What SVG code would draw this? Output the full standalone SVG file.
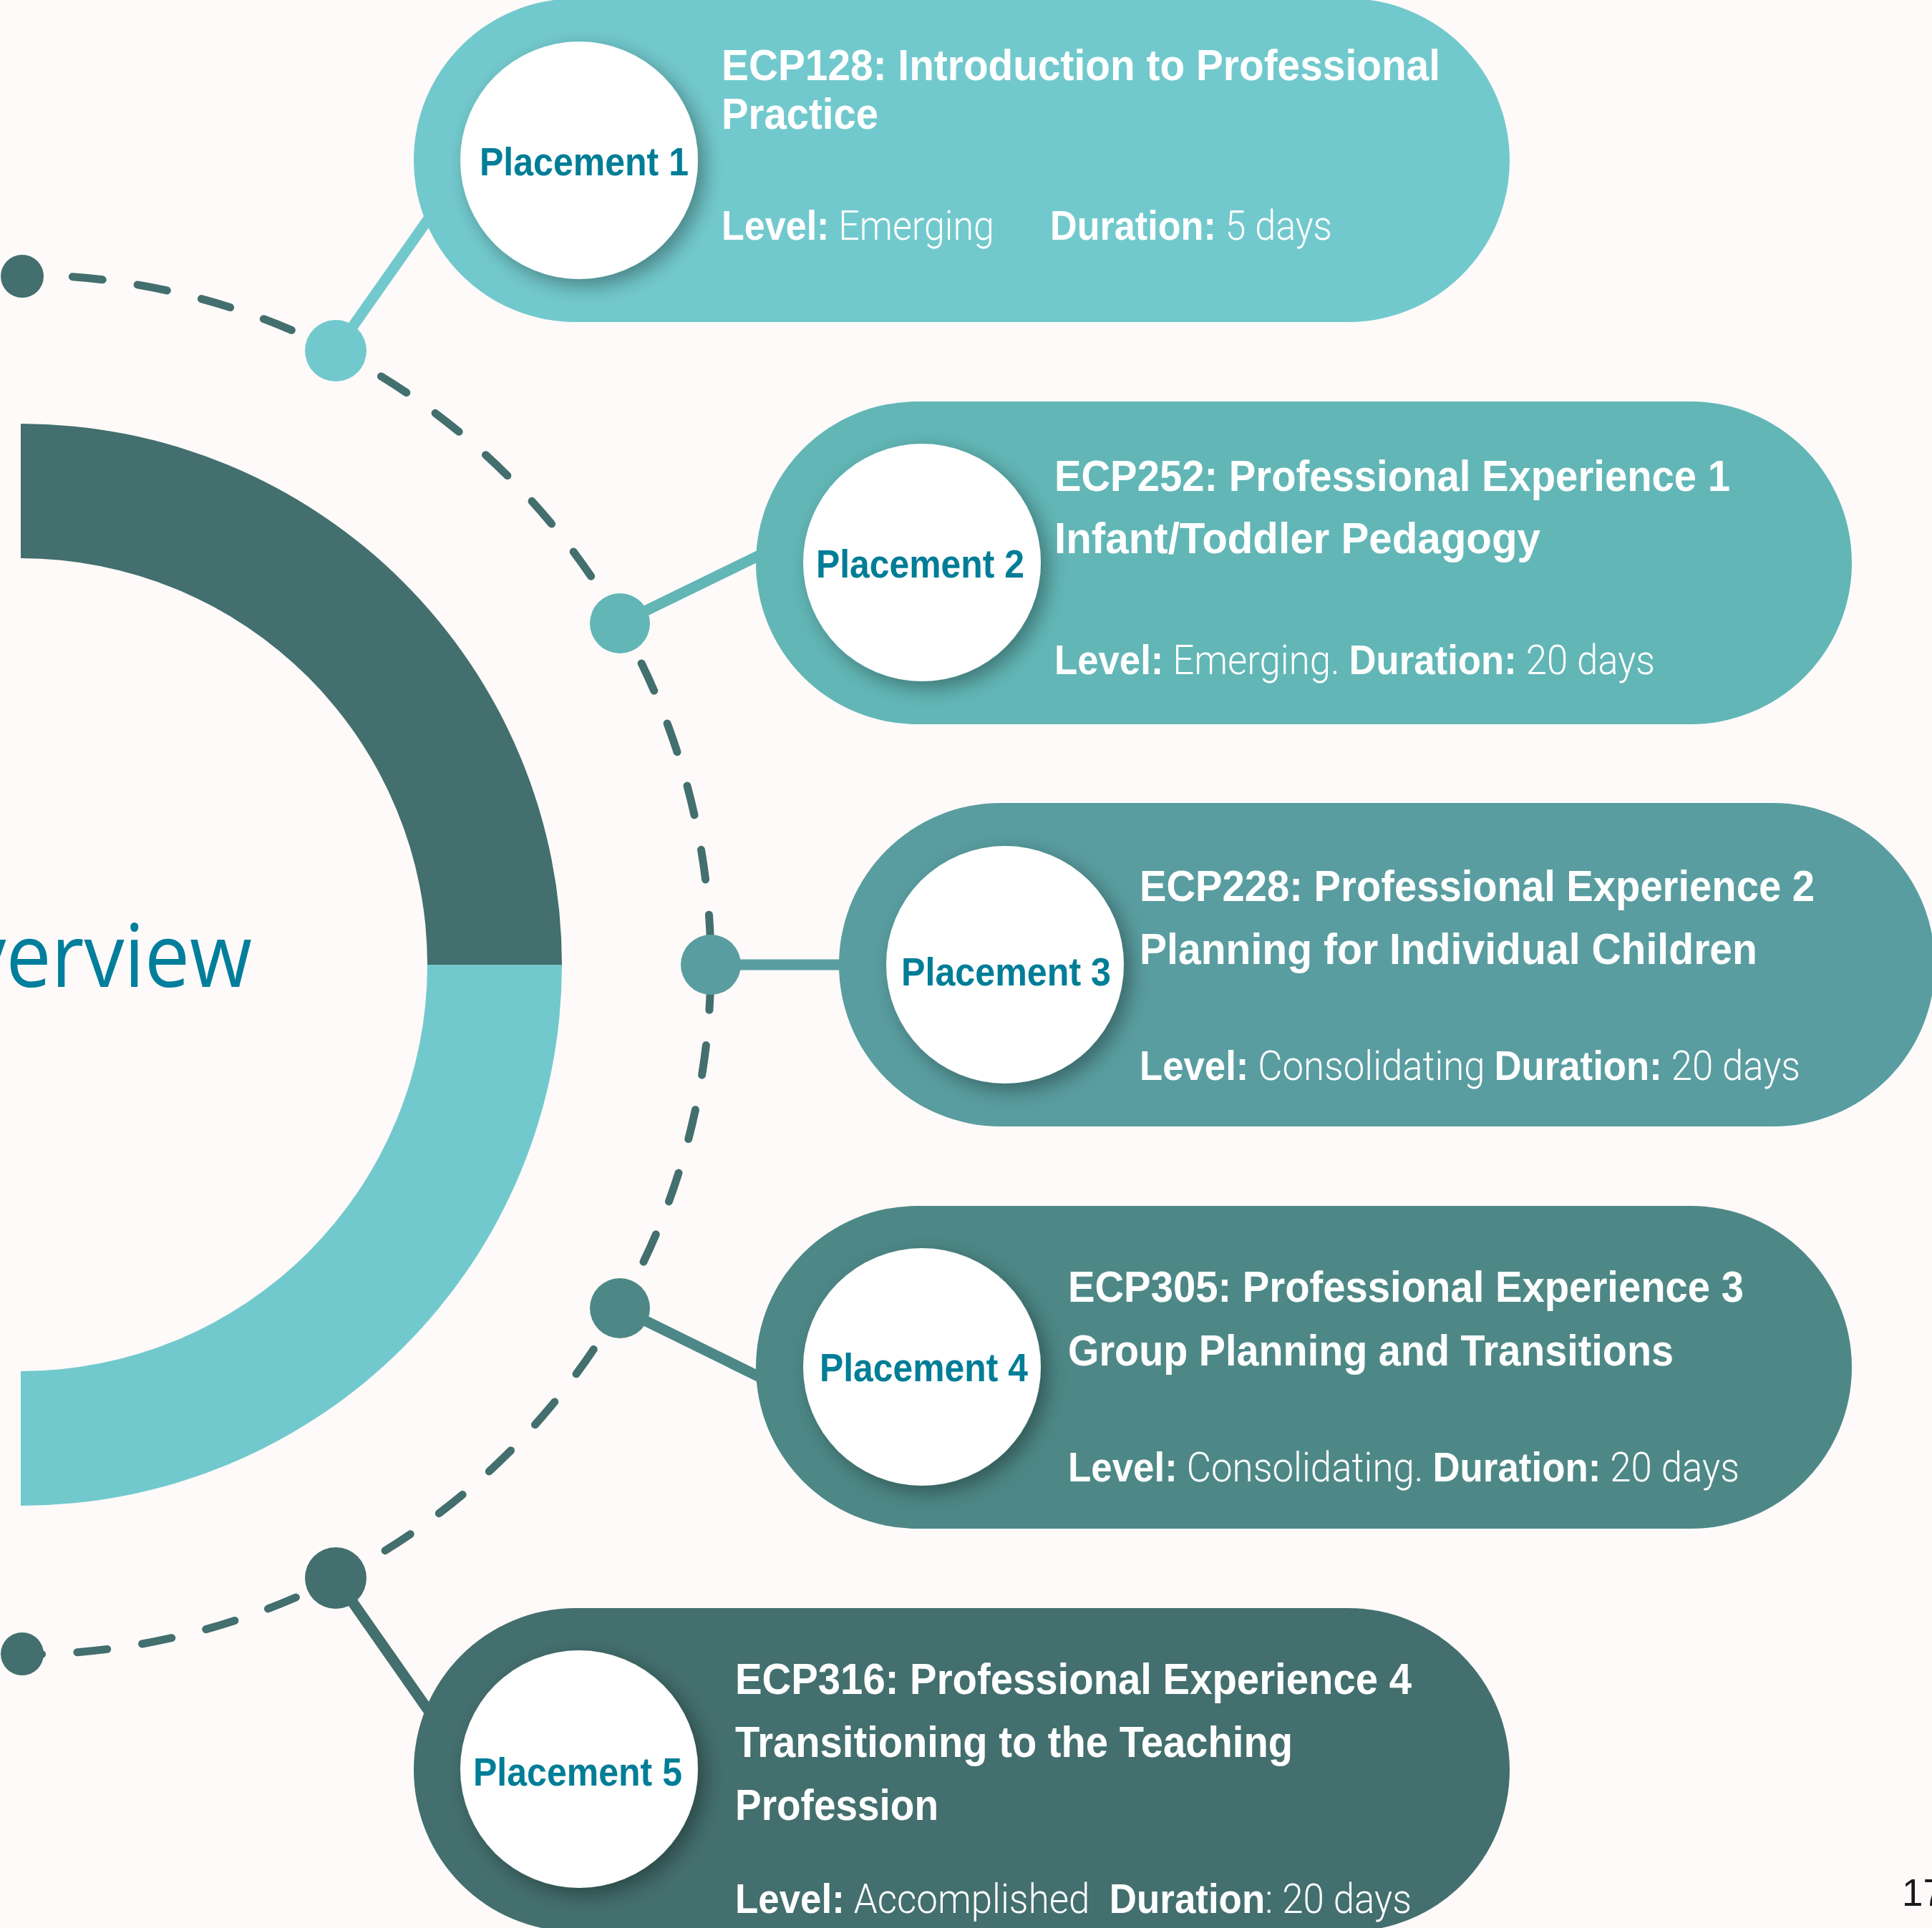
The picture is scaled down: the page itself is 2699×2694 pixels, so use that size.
<svg xmlns="http://www.w3.org/2000/svg" width="2699" height="2694" viewBox="0 0 2699 2694">
<defs>
<style>
.title{font-family:"Liberation Sans","Roboto",sans-serif;font-weight:700;font-size:62px;fill:#ffffff}
.lvl{font-family:"Liberation Sans","Roboto",sans-serif;font-size:58px;fill:#ffffff}
.b{font-weight:700}
.l{font-family:"Roboto","Liberation Sans",sans-serif;font-weight:300}
.plc{font-family:"Liberation Sans","Roboto",sans-serif;font-weight:700;font-size:55px;fill:#007d97}
.dash{fill:none;stroke:#436f6e;stroke-width:11;stroke-linecap:round;stroke-dasharray:42 49.44;stroke-dashoffset:18.94}
.conn{stroke-width:15;stroke-linecap:butt}
.inner{fill:#ffffff;filter:url(#sh)}
</style>
<filter id="sh" x="-30%" y="-30%" width="160%" height="160%">
<feDropShadow dx="10" dy="10" stdDeviation="14" flood-color="#000000" flood-opacity="0.35"/>
</filter>
</defs>
<rect x="0" y="0" width="2699" height="2694" fill="#fdfaf9"/>

<g id="ring">
<path d="M29 592 A756 756 0 0 1 785 1348 L597 1348 A568 568 0 0 0 29 780 Z" fill="#436f6e"/>
<path d="M785 1348 A756 756 0 0 1 29 2104 L29 1916 A568 568 0 0 0 597 1348 Z" fill="#72c9cd"/>
<text x="-135" y="1379" textLength="487" lengthAdjust="spacingAndGlyphs" font-family="'Open Sans','Noto Sans',sans-serif" font-size="123" fill="#007e9b">Overview</text>
</g>

<g id="connectors">
<path class="dash" d="M29 384 A964 964 0 0 1 29 2312"/>
<line class="conn" x1="469" y1="490" x2="625" y2="268" stroke="#72c9cd"/>
<line class="conn" x1="866" y1="871" x2="1110" y2="752" stroke="#62b6b6"/>
<line class="conn" x1="993" y1="1348" x2="1200" y2="1348" stroke="#599da0" stroke-width="16"/>
<line class="conn" x1="866" y1="1828" x2="1110" y2="1948" stroke="#4d8886"/>
<line class="conn" x1="469" y1="2205" x2="625" y2="2428" stroke="#436f6e"/>
<circle cx="31" cy="386" r="30" fill="#436f6e"/>
<circle cx="469" cy="490" r="43" fill="#72c9cd"/>
<circle cx="866" cy="871" r="42" fill="#62b6b6"/>
<circle cx="993" cy="1348" r="42" fill="#599da0"/>
<circle cx="866" cy="1828" r="42" fill="#4d8886"/>
<circle cx="469" cy="2205" r="43" fill="#436f6e"/>
<circle cx="31" cy="2311" r="30" fill="#436f6e"/>
</g>

<g id="placement1">
<rect x="578" y="-2" width="1531" height="452" rx="226" fill="#72c9cd"/>
<circle class="inner" cx="809" cy="224" r="166"/>
<text class="plc" x="670" y="245" textLength="292" lengthAdjust="spacingAndGlyphs">Placement 1</text>
<text class="title" x="1008" y="112" textLength="1004" lengthAdjust="spacingAndGlyphs">ECP128: Introduction to Professional</text>
<text class="title" x="1008" y="180" textLength="219" lengthAdjust="spacingAndGlyphs">Practice</text>
<text class="lvl" x="1008" y="335" textLength="381" lengthAdjust="spacingAndGlyphs"><tspan class="b">Level:</tspan><tspan class="l"> Emerging</tspan></text>
<text class="lvl" x="1467" y="335" textLength="394" lengthAdjust="spacingAndGlyphs"><tspan class="b">Duration:</tspan><tspan class="l"> 5 days</tspan></text>
</g>

<g id="placement2">
<rect x="1056" y="561" width="1531" height="451" rx="225.5" fill="#62b6b6"/>
<circle class="inner" cx="1288" cy="786" r="166"/>
<text class="plc" x="1140" y="807" textLength="291" lengthAdjust="spacingAndGlyphs">Placement 2</text>
<text class="title" x="1473" y="686" textLength="944" lengthAdjust="spacingAndGlyphs">ECP252: Professional Experience 1</text>
<text class="title" x="1473" y="773" textLength="679" lengthAdjust="spacingAndGlyphs">Infant/Toddler Pedagogy</text>
<text class="lvl" x="1473" y="942" textLength="839" lengthAdjust="spacingAndGlyphs"><tspan class="b">Level:</tspan><tspan class="l"> Emerging. </tspan><tspan class="b">Duration:</tspan><tspan class="l"> 20 days</tspan></text>
</g>

<g id="placement3">
<rect x="1172" y="1122" width="1531" height="452" rx="226" fill="#599da0"/>
<circle class="inner" cx="1404" cy="1348" r="166"/>
<text class="plc" x="1259" y="1377" textLength="293" lengthAdjust="spacingAndGlyphs">Placement 3</text>
<text class="title" x="1592" y="1259" textLength="943" lengthAdjust="spacingAndGlyphs">ECP228: Professional Experience 2</text>
<text class="title" x="1592" y="1347" textLength="863" lengthAdjust="spacingAndGlyphs">Planning for Individual Children</text>
<text class="lvl" x="1592" y="1509" textLength="923" lengthAdjust="spacingAndGlyphs"><tspan class="b">Level:</tspan><tspan class="l"> Consolidating </tspan><tspan class="b">Duration:</tspan><tspan class="l"> 20 days</tspan></text>
</g>

<g id="placement4">
<rect x="1056" y="1685" width="1531" height="451" rx="225.5" fill="#4d8886"/>
<circle class="inner" cx="1288" cy="1910" r="166"/>
<text class="plc" x="1145" y="1930" textLength="291" lengthAdjust="spacingAndGlyphs">Placement 4</text>
<text class="title" x="1492" y="1819" textLength="944" lengthAdjust="spacingAndGlyphs">ECP305: Professional Experience 3</text>
<text class="title" x="1492" y="1908" textLength="846" lengthAdjust="spacingAndGlyphs">Group Planning and Transitions</text>
<text class="lvl" x="1492" y="2070" textLength="938" lengthAdjust="spacingAndGlyphs"><tspan class="b">Level:</tspan><tspan class="l"> Consolidating. </tspan><tspan class="b">Duration:</tspan><tspan class="l"> 20 days</tspan></text>
</g>

<g id="placement5">
<rect x="578" y="2247" width="1531" height="452" rx="226" fill="#436f6e"/>
<circle class="inner" cx="809" cy="2472" r="166"/>
<text class="plc" x="661" y="2495" textLength="292" lengthAdjust="spacingAndGlyphs">Placement 5</text>
<text class="title" x="1027" y="2367" textLength="945" lengthAdjust="spacingAndGlyphs">ECP316: Professional Experience 4</text>
<text class="title" x="1027" y="2455" textLength="779" lengthAdjust="spacingAndGlyphs">Transitioning to the Teaching</text>
<text class="title" x="1027" y="2543" textLength="284" lengthAdjust="spacingAndGlyphs">Profession</text>
<text class="lvl" x="1027" y="2673" textLength="945" lengthAdjust="spacingAndGlyphs"><tspan class="b">Level:</tspan><tspan class="l"> Accomplished </tspan><tspan class="b" dx="16">Duration</tspan><tspan class="l">: 20 days</tspan></text>
</g>

<text id="page-number" x="2657" y="2663" font-family="'Liberation Sans','DejaVu Sans',sans-serif" font-size="53" fill="#1a1a1a">17</text>
</svg>
